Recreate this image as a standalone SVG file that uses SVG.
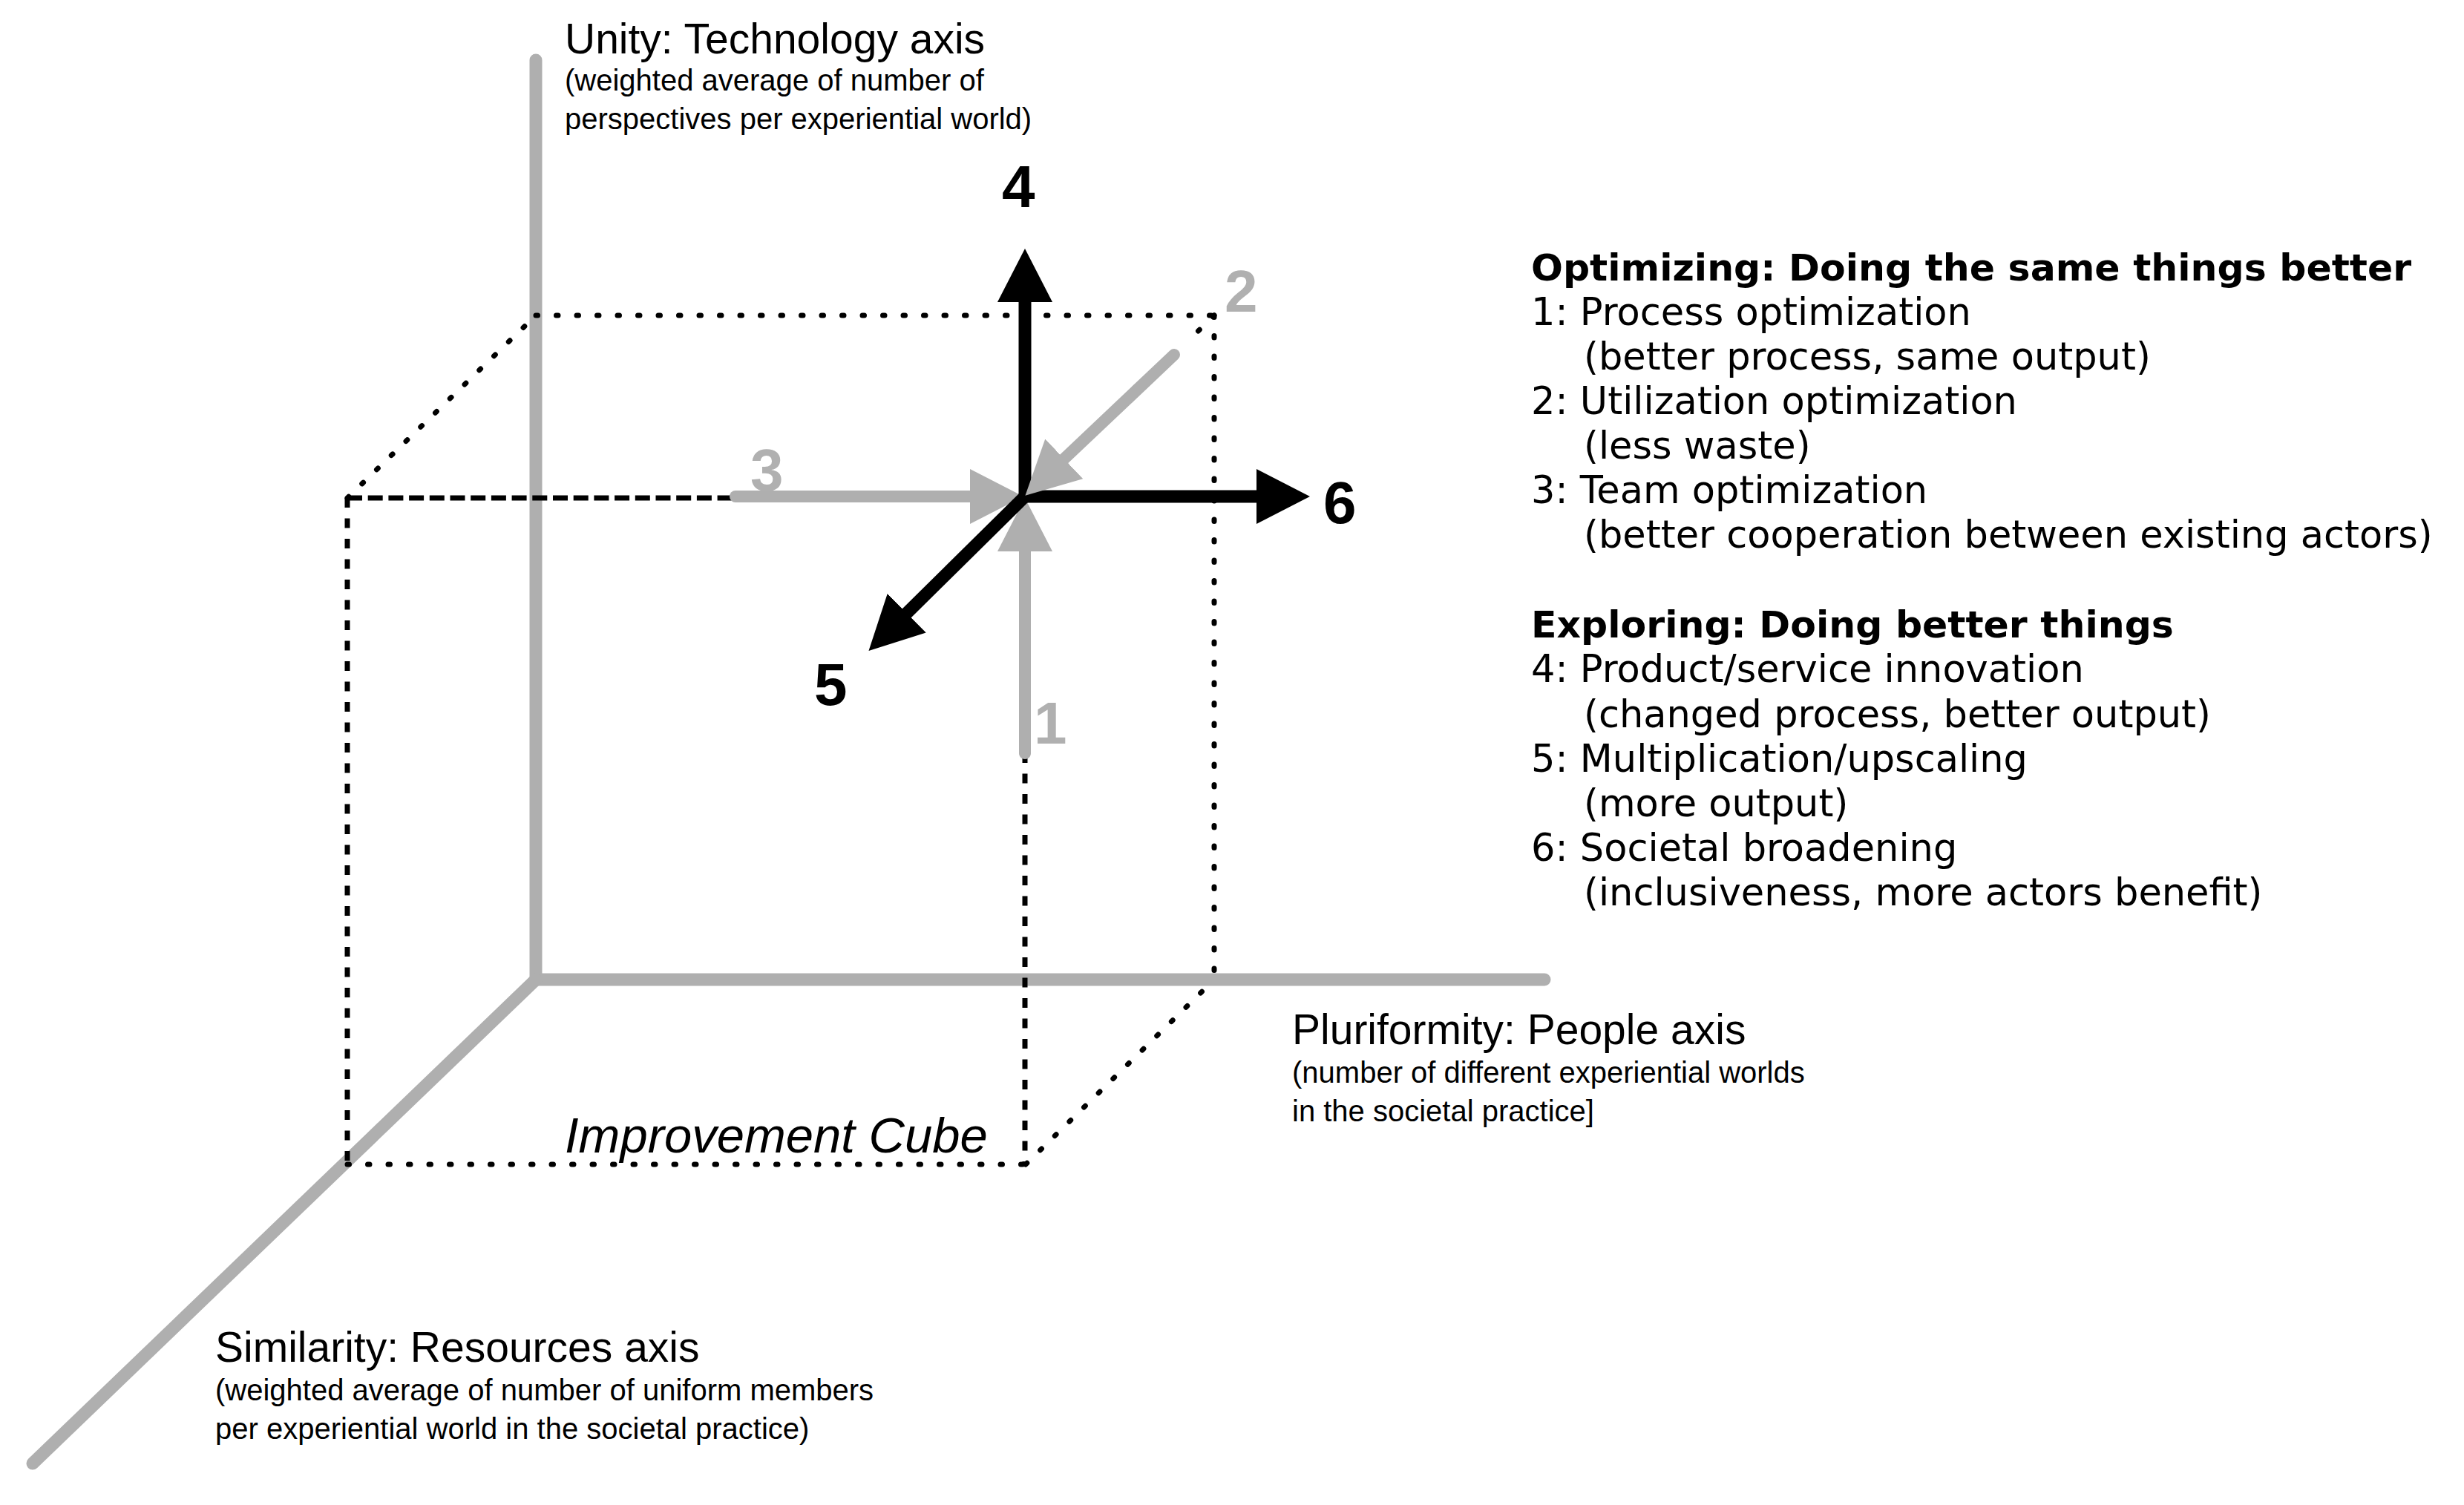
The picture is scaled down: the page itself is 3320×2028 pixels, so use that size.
<svg xmlns="http://www.w3.org/2000/svg" width="3320" height="2028" viewBox="0 0 3320 2028">
<defs>
<style>
.axis{stroke:#afafaf;stroke-width:17;fill:none;stroke-linecap:round}
.dot{stroke:#000;stroke-width:7;fill:none;stroke-linecap:round;stroke-dasharray:2.5 25}
.dashh{stroke:#000;stroke-width:7;fill:none;stroke-dasharray:20 7.7}
.dashv{stroke:#000;stroke-width:7;fill:none;stroke-dasharray:13 14.5}
.blk{stroke:#000;stroke-width:17;fill:none}
.gry{stroke:#afafaf;stroke-width:16;fill:none;stroke-linecap:round}
.ttl{font-family:"Liberation Sans",Arial,sans-serif;font-size:57px;fill:#000}
.sub{font-family:"Liberation Sans",Arial,sans-serif;font-size:40px;fill:#000}
.num{font-family:"Liberation Sans",Arial,sans-serif;font-size:80px;font-weight:bold}
.rh{font-family:"DejaVu Sans",Verdana,sans-serif;font-size:50.5px;font-weight:bold;fill:#000}
.rt{font-family:"DejaVu Sans",Verdana,sans-serif;font-size:51px;fill:#000}
</style>
<marker id="hb" markerUnits="userSpaceOnUse" viewBox="0 -37 72 74" markerWidth="72" markerHeight="74" refX="1" refY="0" orient="auto"><path d="M0,-37 L72,0 L0,37 z" fill="#000"/></marker>
<marker id="hg" markerUnits="userSpaceOnUse" viewBox="0 -37 72 74" markerWidth="72" markerHeight="74" refX="1" refY="0" orient="auto"><path d="M0,-37 L72,0 L0,37 z" fill="#afafaf"/></marker>
</defs>
<rect width="3320" height="2028" fill="#fff"/>
<g id="axes">
<path class="axis" d="M722,81 L722,1320 L2081,1320"/>
<path class="axis" d="M722,1320 L44,1972"/>
</g>
<g id="cube">
<line class="dot" x1="722" y1="425" x2="1636" y2="425"/>
<line class="dot" x1="468" y1="671" x2="722" y2="425"/>
<line class="dashh" x1="468" y1="671" x2="991" y2="671"/>
<line class="dashv" x1="468" y1="671" x2="468" y2="1569"/>
<line class="dot" x1="468" y1="1569" x2="1382" y2="1569"/>
<line class="dashv" x1="1381" y1="1015" x2="1381" y2="1569"/>
<line class="dot" x1="1636" y1="425" x2="1636" y2="1320"/>
<line class="dot" x1="1382" y1="1569" x2="1636" y2="1320"/>
<line class="dot" x1="1636" y1="425" x2="1597" y2="463"/>
</g>
<g id="connectors">
<line id="arrow1" class="gry" x1="1381" y1="1015" x2="1381" y2="742" marker-end="url(#hg)"/>
<line id="arrow3" class="gry" x1="991" y1="669" x2="1308" y2="669" marker-end="url(#hg)"/>
<line id="arrow4" class="blk" x1="1381" y1="669" x2="1381" y2="406" marker-end="url(#hb)"/>
<line id="arrow6" class="blk" x1="1381" y1="669" x2="1694" y2="669" marker-end="url(#hb)"/>
<line id="arrow5" class="blk" x1="1381" y1="669" x2="1221" y2="827" marker-end="url(#hb)"/>
<line id="arrow2" class="gry" x1="1582" y1="478" x2="1433" y2="619" marker-end="url(#hg)"/>
</g>
<g id="arrow-labels">
<text class="num" x="1393" y="1002" fill="#b0b0b0">1</text>
<text class="num" x="1650" y="420" fill="#b0b0b0">2</text>
<text class="num" x="1011" y="661" fill="#b0b0b0">3</text>
<text class="num" x="1350" y="279" fill="#000">4</text>
<text class="num" x="1097" y="950" fill="#000">5</text>
<text class="num" x="1783" y="705" fill="#000">6</text>
</g>
<g id="unity-axis-label">
<text class="ttl" x="761" y="72">Unity: Technology axis</text>
<text class="sub" x="761" y="122">(weighted average of number of</text>
<text class="sub" x="761" y="174">perspectives per experiential world)</text>
</g>
<g id="pluriformity-axis-label">
<text class="ttl" x="1741" y="1407">Pluriformity: People axis</text>
<text class="sub" x="1741" y="1459">(number of different experiential worlds</text>
<text class="sub" x="1741" y="1511">in the societal practice]</text>
</g>
<g id="similarity-axis-label">
<text class="ttl" x="290" y="1835">Similarity: Resources axis</text>
<text class="sub" x="290" y="1887">(weighted average of number of uniform members</text>
<text class="sub" x="290" y="1939">per experiential world in the societal practice)</text>
</g>
<g id="cube-label">
<text x="761" y="1553" style="font-family:'Liberation Sans',Arial,sans-serif;font-size:67px;font-style:italic">Improvement Cube</text>
</g>
<g id="optimizing-legend">
<text class="rh" x="2063" y="378">Optimizing: Doing the same things better</text>
<text class="rt" x="2063" y="438">1: Process optimization</text>
<text class="rt" x="2134" y="498">(better process, same output)</text>
<text class="rt" x="2063" y="558">2: Utilization optimization</text>
<text class="rt" x="2134" y="618">(less waste)</text>
<text class="rt" x="2063" y="678">3: Team optimization</text>
<text class="rt" x="2134" y="738">(better cooperation between existing actors)</text>
</g>
<g id="exploring-legend">
<text class="rh" x="2063" y="859">Exploring: Doing better things</text>
<text class="rt" x="2063" y="919">4: Product/service innovation</text>
<text class="rt" x="2134" y="980">(changed process, better output)</text>
<text class="rt" x="2063" y="1040">5: Multiplication/upscaling</text>
<text class="rt" x="2134" y="1100">(more output)</text>
<text class="rt" x="2063" y="1160">6: Societal broadening</text>
<text class="rt" x="2134" y="1220">(inclusiveness, more actors benefit)</text>
</g>
</svg>
